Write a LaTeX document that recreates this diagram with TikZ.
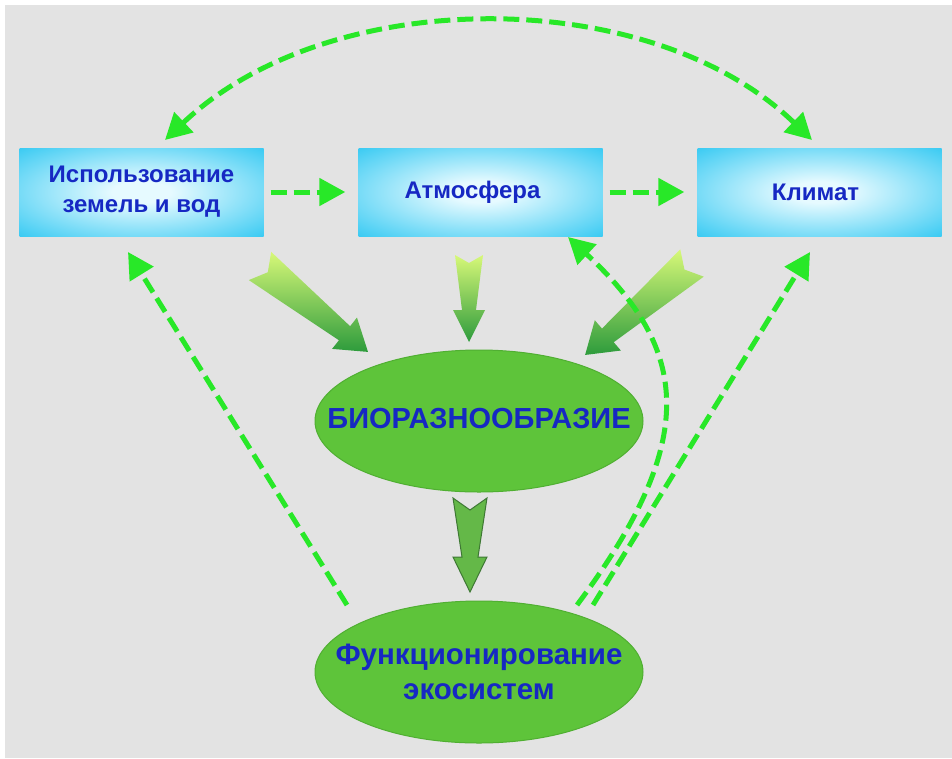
\documentclass[tikz,border=0pt]{standalone}
\usepackage{fontspec}
\setmainfont{Liberation Sans}
\usetikzlibrary{arrows.meta,shapes.geometric}
\definecolor{bg}{RGB}{227,227,227}
\definecolor{dgreen}{RGB}{40,232,40}
\definecolor{txt}{RGB}{22,40,195}
\definecolor{boxout}{RGB}{20,192,240}
\definecolor{boxin}{RGB}{230,250,255}
\definecolor{ellfill}{RGB}{94,196,58}
\definecolor{elledge}{RGB}{80,175,50}
\definecolor{arlight}{RGB}{215,248,120}
\definecolor{ardark}{RGB}{45,155,60}
\definecolor{botfill}{RGB}{100,184,72}
\definecolor{botedge}{RGB}{62,120,52}
\pgfdeclareradialshading{boxsh}{\pgfpoint{0bp}{0bp}}{color(0bp)=(boxin); color(6bp)=(boxin); color(42bp)=(boxout); color(75bp)=(boxout)}
\tikzset{
  box/.style={rectangle, shading=boxsh, minimum width=244pt, minimum height=88pt, inner sep=0pt,
    font=\bfseries\fontsize{24}{30}\selectfont, text=txt, align=center},
  ell/.style={ellipse, fill=ellfill, draw=elledge, line width=1pt, minimum width=328pt,
    minimum height=142pt, inner sep=0pt},
  elltext/.style={text=txt, align=center, inner sep=0pt},
  dl/.style={draw=dgreen, line width=5pt, dash pattern=on 16pt off 7pt,
    -{Triangle[length=26pt,width=27pt]}},
  dlboth/.style={draw=dgreen, line width=5pt, dash pattern=on 16pt off 7pt,
    {Triangle[length=26pt,width=27pt]}-{Triangle[length=26pt,width=27pt]}},
  fatshade/.style={top color=arlight, bottom color=ardark},
}
\begin{document}
\begin{tikzpicture}[x=1pt,y=-1pt]
\path[use as bounding box, fill=white] (0,0) rectangle (952,758);
\fill[bg] (5,5) rectangle (952,758);

% boxes
\node[box] (b1) at (141.5,192) {Использование\\земель и вод};
\node[box] (b2) at (480.5,192) {\hspace*{-16pt}Атмосфера};
\node[box] (b3) at (819.5,192) {\hspace*{-8pt}Климат};

% fat gradient arrows
\begin{scope}[shift={(260,266)}, rotate=-38.5]
  \shade[fatshade] (0,18) -- (10,0) -- (0,-18) -- (108,-9) -- (108,-20) -- (138,0) -- (108,20) -- (108,9) -- cycle;
\end{scope}
\begin{scope}[shift={(469,255)}, rotate=-90]
  \shade[fatshade] (0,14) -- (8,0) -- (0,-14) -- (55,-7) -- (55,-16) -- (87,0) -- (55,16) -- (55,7) -- cycle;
\end{scope}
\begin{scope}[shift={(692,263)}, rotate=-139.3]
  \shade[fatshade] (0,18) -- (10,0) -- (0,-18) -- (111,-9) -- (111,-20) -- (141,0) -- (111,20) -- (111,9) -- cycle;
\end{scope}
\begin{scope}[shift={(470,498)}, rotate=-90]
  \filldraw[fill=botfill, draw=botedge, line width=1pt] (0,17) -- (12,0) -- (0,-17) -- (59,-8) -- (59,-17) -- (94,0) -- (59,17) -- (59,8) -- cycle;
\end{scope}

% ellipses
\node[ell] (bio) at (479,421) {};
\node[elltext, font=\bfseries\fontsize{29}{34}\selectfont] (biot) at (479,419) {БИОРАЗНООБРАЗИЕ};
\node[ell] (eco) at (479,672) {};
\node[elltext, font=\bfseries\fontsize{29.5}{35}\selectfont] (ecot) at (479,672) {Функционирование\\экосистем};

% connector end points
\coordinate (a1) at (165,140);
\coordinate (a3) at (812,140);
\coordinate (eL) at (347,605);
\coordinate (tL) at (128,252);
\coordinate (eR) at (593,605);
\coordinate (tR) at (810,252);
\coordinate (eC) at (577,605);
\coordinate (tC) at (568,237);

% dashed connectors
\draw[dl] ([xshift=7pt]b1.east) -- ([xshift=-13pt]b2.west);
\draw[dl] ([xshift=7pt]b2.east) -- ([xshift=-13pt]b3.west);
\draw[dlboth] (a1) .. controls (330,-16) and (650,-16) .. (a3);
\draw[dl] (eL) -- (tL);
\draw[dl] (eR) -- (tR);
\draw[dl] (eC) .. controls (700,440) and (690,350) .. (tC);
\end{tikzpicture}
\end{document}
